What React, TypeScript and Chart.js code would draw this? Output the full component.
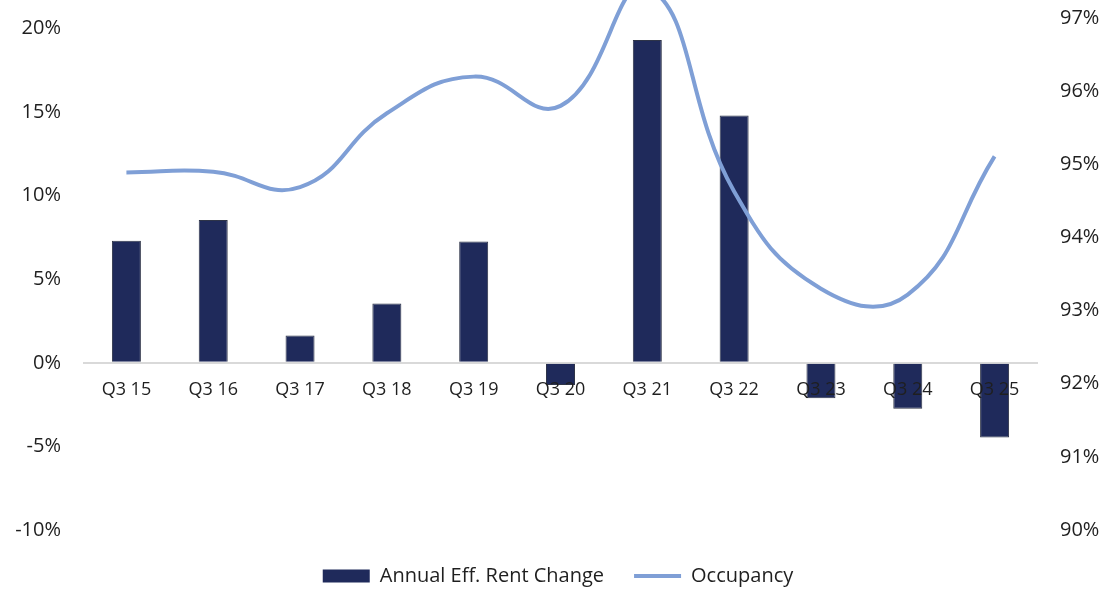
import React, { useEffect, useRef } from 'react';
import { Chart, registerables } from 'chart.js';

Chart.register(...registerables);

const categories = ['Q3 15', 'Q3 16', 'Q3 17', 'Q3 18', 'Q3 19', 'Q3 20', 'Q3 21', 'Q3 22', 'Q3 23', 'Q3 24', 'Q3 25'];
const rentChange = [7.3, 8.55, 1.63, 3.55, 7.26, -1.32, 19.32, 14.8, -2.12, -2.74, -4.47];
const occupancy = [94.89, 94.9, 94.69, 95.7, 96.2, 95.8, 97.42, 94.63, 93.3, 93.22, 95.11];
const leftTickRange = [-10, 25, 5];
const rightTickRange = [90, 98, 1];
const seriesNames = ['Annual Eff. Rent Change', 'Occupancy'];

const NAVY = '#1f2a5b';
const LIGHT = '#7f9fd6';
const TEXT = '#1f1f1f';
const FONT = "'Open Sans', sans-serif";

const TOP_OFFSET = 89;
const CANVAS_H = 685;

export default function App() {
  const ref = useRef<HTMLCanvasElement | null>(null);

  useEffect(() => {
    if (!ref.current) return;
    const chart = new Chart(ref.current, {
      type: 'bar',
      data: {
        labels: categories,
        datasets: [
          {
            type: 'bar',
            label: seriesNames[0],
            data: rentChange,
            backgroundColor: NAVY,
            borderColor: '#2e3448',
            borderWidth: 1,
            barPercentage: 0.334,
            categoryPercentage: 1,
            yAxisID: 'y',
            order: 2,
          },
          {
            type: 'line',
            label: seriesNames[1],
            data: occupancy,
            borderColor: LIGHT,
            backgroundColor: LIGHT,
            borderWidth: 4,
            pointRadius: 0,
            tension: 0.45,
            fill: false,
            yAxisID: 'y1',
            order: 1,
          },
        ] as any,
      },
      options: {
        animation: false,
        responsive: true,
        maintainAspectRatio: false,
        layout: { padding: { top: 14, left: 0, right: 0, bottom: 0 } },
        plugins: {
          tooltip: { enabled: false },
          legend: {
            position: 'bottom',
            labels: {
              usePointStyle: true,
              pointStyleWidth: 47,
              boxHeight: 13,
              padding: 30,
              color: TEXT,
              font: { family: FONT, size: 20 },
              generateLabels: () => [
                {
                  text: seriesNames[0],
                  fillStyle: NAVY,
                  strokeStyle: NAVY,
                  lineWidth: 0,
                  pointStyle: 'rect',
                  hidden: false,
                  datasetIndex: 0,
                  fontColor: TEXT,
                },
                {
                  text: seriesNames[1],
                  fillStyle: LIGHT,
                  strokeStyle: LIGHT,
                  lineWidth: 4,
                  pointStyle: 'line',
                  hidden: false,
                  datasetIndex: 1,
                  fontColor: TEXT,
                },
              ] as any,
            },
          },
        },
        scales: {
          x: {
            type: 'category',
            position: { y: 0 } as any,
            offset: true,
            grid: { display: false },
            border: { display: false },
            ticks: {
              z: 1,
              color: TEXT,
              font: { family: FONT, size: 18 },
              padding: 8,
              maxRotation: 0,
              autoSkip: false,
            },
          },
          xpad: {
            type: 'category',
            position: 'bottom',
            display: true,
            grid: { display: false },
            border: { display: false },
            ticks: { display: false },
            afterFit: (s: any) => {
              s.height = 6;
            },
          },
          y: {
            type: 'linear',
            position: 'left',
            min: leftTickRange[0],
            max: leftTickRange[1],
            border: { display: false },
            grid: {
              drawTicks: false,
              color: (ctx: any) => (ctx.tick && ctx.tick.value === 0 ? '#d9d9d9' : 'rgba(0,0,0,0)'),
              lineWidth: 2,
            },
            ticks: {
              stepSize: leftTickRange[2],
              padding: 22,
              color: TEXT,
              font: { family: FONT, size: 20 },
              callback: (v: any) => `${v}%`,
            },
            afterFit: (s: any) => {
              s.width = 83;
            },
          },
          y1: {
            type: 'linear',
            position: 'right',
            min: rightTickRange[0],
            max: rightTickRange[1],
            border: { display: false },
            grid: { display: false, drawTicks: false },
            ticks: {
              stepSize: rightTickRange[2],
              padding: 22,
              color: TEXT,
              font: { family: FONT, size: 20 },
              callback: (v: any) => `${v}%`,
            },
            afterFit: (s: any) => {
              s.width = 78;
            },
          },
        } as any,
      },
    });
    return () => chart.destroy();
  }, []);

  return (
    <div style={{ position: 'absolute', left: 0, top: 0, width: 1116, height: 589, overflow: 'hidden', background: '#fff' }}>
      <div style={{ position: 'absolute', left: 0, top: -TOP_OFFSET, width: 1116, height: CANVAS_H }}>
        <canvas ref={ref} />
      </div>
    </div>
  );
}
